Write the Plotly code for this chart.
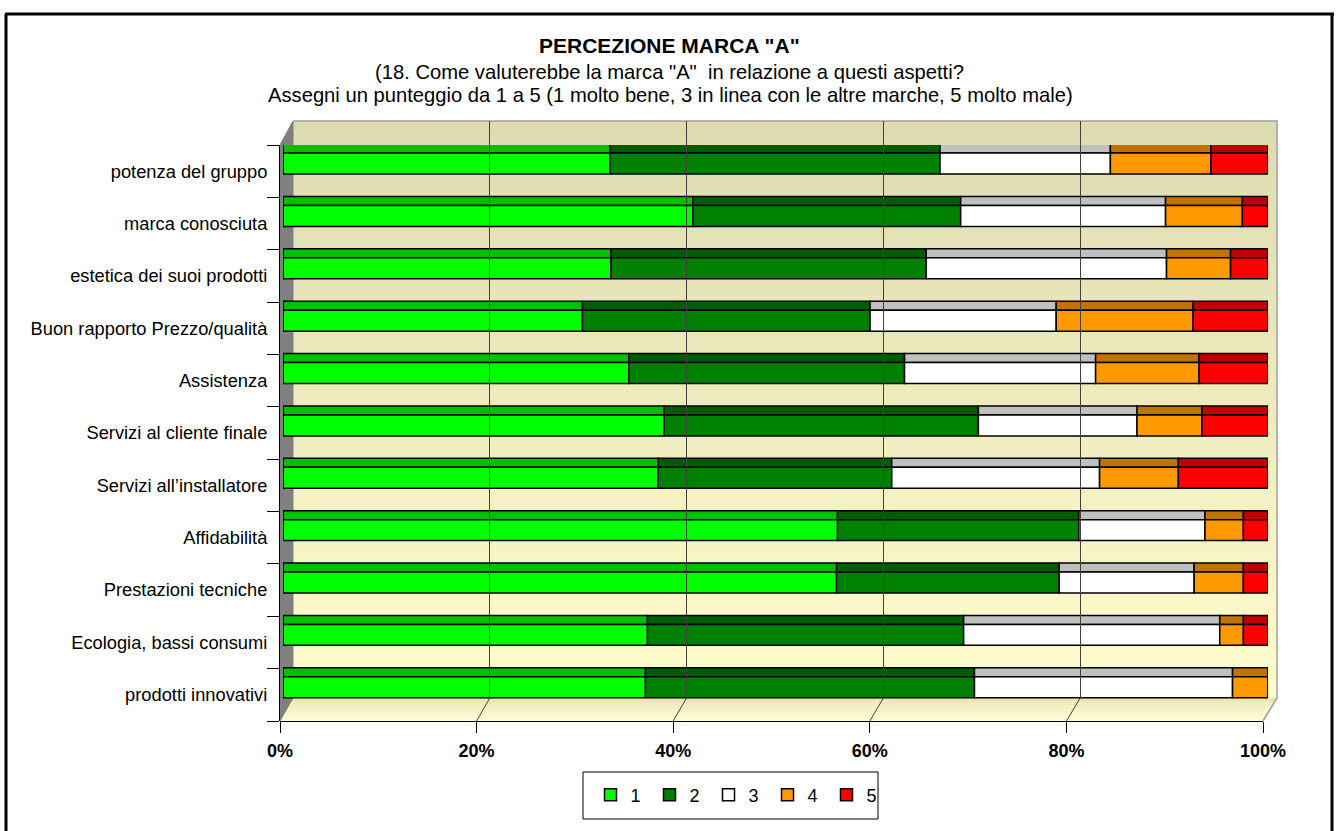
import plotly.graph_objects as go

W, H = 1340, 831

# ---------------- data (percent of answers) ----------------
categories = [
    "potenza del gruppo",
    "marca conosciuta",
    "estetica dei suoi prodotti",
    "Buon rapporto Prezzo/qualità",
    "Assistenza",
    "Servizi al cliente finale",
    "Servizi all\u2019installatore",
    "Affidabilità",
    "Prestazioni tecniche",
    "Ecologia, bassi consumi",
    "prodotti innovativi",
]
score_1 = [33.2, 41.6, 33.3, 30.4, 35.1, 38.7, 38.1, 56.3, 56.2, 37.0, 36.8]
score_2 = [33.5, 27.2, 32.0, 29.2, 28.0, 31.9, 23.7, 24.5, 22.6, 32.1, 33.4]
score_3 = [17.3, 20.8, 24.4, 18.9, 19.4, 16.1, 21.1, 12.8, 13.7, 26.0, 26.2]
score_4 = [10.2, 7.8, 6.5, 13.9, 10.5, 6.6, 8.0, 3.9, 5.0, 2.4, 3.6]
score_5 = [5.8, 2.6, 3.8, 7.6, 7.0, 6.7, 9.1, 2.5, 2.5, 2.5, 0.0]
series_names = ["1", "2", "3", "4", "5"]
x_tick_vals = [0, 20, 40, 60, 80, 100]
x_tick_text = ["0%", "20%", "40%", "60%", "80%", "100%"]

title = "PERCEZIONE MARCA \"A\""
subtitle_1 = "(18. Come valuterebbe la marca \"A\" \u00a0in relazione a questi aspetti?"
subtitle_2 = "Assegni un punteggio da 1 a 5 (1 molto bene, 3 in linea con le altre marche, 5 molto male)"

# ---------------- style ----------------
front_colors = ["#00FF00", "#008000", "#FFFFFF", "#FF9900", "#FF0000"]
top_colors = ["#00C000", "#005C00", "#C0C0C0", "#C07300", "#C00000"]
end_color = "#800000"
FONT = "Arial, Liberation Sans, sans-serif"


def px(x):
    return x / W


def py(y):
    return 1 - y / H


series = [score_1, score_2, score_3, score_4, score_5]

fig = go.Figure()
n = len(categories)
cum = [0.0] * n
for name, vals, fc, tc in zip(series_names, series, front_colors, top_colors):
    # top face of the 3D bar
    fig.add_trace(go.Bar(
        y=categories, x=vals, base=list(cum), orientation="h",
        width=0.172, offset=0.345,
        marker=dict(color=tc, line=dict(color="black", width=1.5)),
        showlegend=False, hoverinfo="skip",
    ))
    # front face
    fig.add_trace(go.Bar(
        y=categories, x=vals, base=list(cum), orientation="h",
        width=0.40, offset=-0.055, name=name,
        marker=dict(color=fc, line=dict(color="black", width=1.5)),
    ))
    cum = [c + v for c, v in zip(cum, vals)]

# right end face of each bar
fig.add_trace(go.Bar(
    y=categories, x=[0.45] * n, base=cum, orientation="h",
    width=0.56, offset=-0.045,
    marker=dict(color=end_color, line=dict(color="black", width=1)),
    showlegend=False, hoverinfo="skip",
))

# dummy traces so the helper subplots render
fig.add_trace(go.Scatter(x=[], y=[], xaxis="x2", yaxis="y2", showlegend=False))
fig.add_trace(go.Scatter(x=[], y=[], xaxis="x3", yaxis="y3", showlegend=False))

shapes = []
# back wall gradient
wall_top, wall_bot = 121, 698
wall_l, wall_r = 293, 1277
c_top = (221, 219, 176)
c_bot = (255, 252, 204)
nb = 40
for i in range(nb):
    t = i / (nb - 1)
    col = tuple(round(a + (b - a) * t) for a, b in zip(c_top, c_bot))
    y0 = wall_top + (wall_bot - wall_top) * i / nb
    y1 = wall_top + (wall_bot - wall_top) * (i + 1) / nb + 0.6
    shapes.append(dict(type="rect", xref="paper", yref="paper", layer="below",
                       x0=px(wall_l), x1=px(wall_r), y0=py(y0), y1=py(min(y1, wall_bot)),
                       fillcolor="rgb(%d,%d,%d)" % col, line=dict(width=0)))
# floor gradient (parallelogram)
fl_front, fl_back = 721, 698
fl_fl, fl_fr = 280, 1263
fc_back = (232, 228, 178)
fc_front = (255, 254, 212)
nf = 8
for i in range(nf):
    t0 = i / nf
    t1 = (i + 1) / nf
    t = (i + 0.5) / nf
    col = tuple(round(a + (b - a) * t) for a, b in zip(fc_back, fc_front))
    ya = fl_back + (fl_front - fl_back) * t0
    yb = fl_back + (fl_front - fl_back) * t1
    xa_l = wall_l + (fl_fl - wall_l) * t0
    xb_l = wall_l + (fl_fl - wall_l) * t1
    xa_r = wall_r + (fl_fr - wall_r) * t0
    xb_r = wall_r + (fl_fr - wall_r) * t1
    path = "M %f %f L %f %f L %f %f L %f %f Z" % (
        px(xa_l), py(ya), px(xa_r), py(ya), px(xb_r), py(yb), px(xb_l), py(yb))
    shapes.append(dict(type="path", xref="paper", yref="paper", layer="below",
                       path=path, fillcolor="rgb(%d,%d,%d)" % col, line=dict(width=0)))
# floor grid lines (slanted)
for v in x_tick_vals[1:-1]:
    f = v / 100
    shapes.append(dict(type="line", xref="paper", yref="paper", layer="below",
                       x0=px(fl_fl + (fl_fr - fl_fl) * f), y0=py(fl_front),
                       x1=px(wall_l + (wall_r - wall_l) * f), y1=py(fl_back),
                       line=dict(color="#404040", width=1)))
# left grey side wall
shapes.append(dict(type="path", xref="paper", yref="paper", layer="below",
                   path="M %f %f L %f %f L %f %f L %f %f Z" % (
                       px(280), py(145), px(293), py(121), px(293), py(698), px(280), py(721)),
                   fillcolor="#808080", line=dict(color="#808080", width=1)))
# back wall border (top & right) and floor right edge
shapes.append(dict(type="path", xref="paper", yref="paper", layer="below",
                   path="M %f %f L %f %f L %f %f L %f %f" % (
                       px(293), py(121), px(1277), py(121), px(1277), py(698), px(1263), py(721)),
                   line=dict(color="#A0A0A0", width=1.5)))
# legend box
shapes.append(dict(type="rect", xref="paper", yref="paper",
                   x0=px(583), x1=px(878), y0=py(819), y1=py(772),
                   line=dict(color="black", width=1), fillcolor="rgba(0,0,0,0)"))
# outer frame
for (x0, y0, x1, y1) in [(5, 14, 1334, 14), (6, 14, 6, 831), (1332, 14, 1332, 831)]:
    shapes.append(dict(type="line", xref="paper", yref="paper",
                       x0=px(x0), y0=py(y0), x1=px(x1), y1=py(y1),
                       line=dict(color="black", width=3)))

annotations = [
    dict(text="<b>%s</b>" % title, x=px(669), y=py(46), xref="paper", yref="paper",
         showarrow=False, font=dict(size=21, color="black", family=FONT), yanchor="middle"),
    dict(text=subtitle_1, x=px(669), y=py(72), xref="paper", yref="paper",
         showarrow=False, font=dict(size=20.2, color="black", family=FONT), yanchor="middle"),
    dict(text=subtitle_2, x=px(670), y=py(95), xref="paper", yref="paper",
         showarrow=False, font=dict(size=20.2, color="black", family=FONT), yanchor="middle"),
]

fig.update_layout(
    width=W, height=H,
    margin=dict(l=0, r=0, t=0, b=0, autoexpand=False),
    paper_bgcolor="white", plot_bgcolor="rgba(0,0,0,0)",
    barmode="overlay",
    font=dict(family=FONT, color="black", size=18),
    shapes=shapes,
    annotations=annotations,
    xaxis=dict(domain=[px(283), px(1268)], range=[0, 100], visible=False,
               anchor="y", fixedrange=True, automargin=False),
    yaxis=dict(domain=[py(721), py(145)], type="category",
               categoryorder="array", categoryarray=list(reversed(categories)),
               range=[-0.5, n - 0.5], anchor="free", position=px(279),
               tickson="boundaries", ticks="outside", ticklen=12, tickcolor="black",
               showline=True, linecolor="black", linewidth=1, showgrid=False,
               automargin=False, ticklabelstandoff=8,
               tickfont=dict(size=18.3, family=FONT, color="black"), fixedrange=True),
    xaxis2=dict(domain=[px(293), px(1277)], range=[0, 100], anchor="y2",
                tickvals=x_tick_vals[1:-1], showgrid=True, gridcolor="#404040",
                gridwidth=1, showticklabels=False, ticks="", zeroline=False,
                showline=False, fixedrange=True, automargin=False),
    yaxis2=dict(domain=[py(698), py(121)], range=[0, 1], visible=False,
                anchor="x2", fixedrange=True, automargin=False),
    xaxis3=dict(domain=[px(280), px(1263)], range=[0, 100], anchor="y3",
                tickvals=x_tick_vals, ticktext=["<b>%s</b>" % t for t in x_tick_text],
                ticks="outside", ticklen=11, tickcolor="black", showline=True,
                linecolor="black", linewidth=1, showgrid=False, zeroline=False,
                ticklabelstandoff=2, automargin=False,
                tickfont=dict(size=18, family=FONT, color="black"), fixedrange=True),
    yaxis3=dict(domain=[py(721), py(720)], range=[0, 1], visible=False,
                anchor="x3", fixedrange=True, automargin=False),
    legend=dict(orientation="h", x=px(738), y=py(795), xanchor="center", yanchor="middle",
                borderwidth=0, bgcolor="rgba(0,0,0,0)",
                entrywidth=14,
                font=dict(size=18, family=FONT, color="black"),
                traceorder="normal"),
    showlegend=True,
)

fig.write_html("out.html")
